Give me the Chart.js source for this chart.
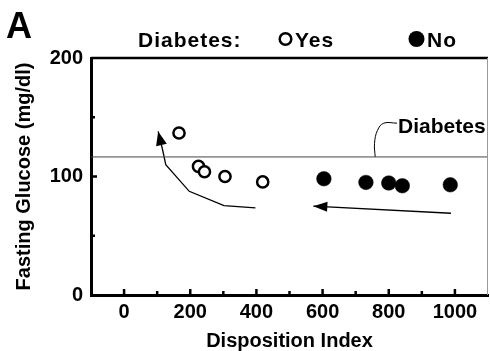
<!DOCTYPE html>
<html>
<head>
<meta charset="utf-8">
<script src="https://cdn.jsdelivr.net/npm/chart.js@4"></script>
<style>
  body { margin: 0; background: #fff; }
</style>
</head>
<body>
<canvas id="chart" width="490" height="351"></canvas>
<script>
// data
var yesIndex = [166, 225, 243, 305, 419];
var yesGlucose = [136.7, 108.5, 104, 100, 95.4];
var noIndex = [604, 731, 800, 841, 986];
var noGlucose = [98.1, 95, 94.5, 92.2, 93];
var diabetesCut = 116.5;
var leftArrow = [[397, 73.5], [302, 75.4], [197, 87.5], [126, 110], [116, 123], [103, 138]];
var rightArrow = [[988, 69], [572, 75]];
var callout = [[759, diabetesCut], [757, 128], [766, 139], [785, 145], [825, 145]];
var xTickLabels = [0, 200, 400, 600, 800, 1000];
var yTickLabels = [0, 100, 200];

var FONT = "'Liberation Sans', Arial, sans-serif";

function pts(xs, ys) {
  return xs.map(function(x, i) { return { x: x, y: ys[i] }; });
}
function pairs(a) {
  return a.map(function(p) { return { x: p[0], y: p[1] }; });
}

var extras = {
  id: 'extras',
  afterDraw: function(chart) {
    var ctx = chart.ctx, a = chart.chartArea;
    var xs = chart.scales.x, ys = chart.scales.y;
    ctx.save();
    // frame top + right
    ctx.strokeStyle = '#000';
    ctx.lineWidth = 2.5;
    ctx.beginPath(); ctx.moveTo(a.left, a.top); ctx.lineTo(a.right, a.top); ctx.stroke();
    ctx.strokeStyle = '#999';
    ctx.lineWidth = 1;
    ctx.beginPath(); ctx.moveTo(a.right - 0.5, a.top); ctx.lineTo(a.right - 0.5, a.bottom); ctx.stroke();

    // inward tick marks
    ctx.strokeStyle = '#000';
    ctx.lineWidth = 2.5;
    xs.ticks.forEach(function(t) {
      if (t.value <= -100 || t.value >= 1100) return;
      var px = xs.getPixelForValue(t.value);
      var len = xTickLabels.indexOf(t.value) >= 0 ? 6 : 4;
      ctx.beginPath(); ctx.moveTo(px, a.bottom); ctx.lineTo(px, a.bottom - len); ctx.stroke();
    });
    ys.ticks.forEach(function(t) {
      if (t.value <= 0 || t.value >= 200) return;
      var py = ys.getPixelForValue(t.value);
      var len = yTickLabels.indexOf(t.value) >= 0 ? 6 : 4;
      ctx.beginPath(); ctx.moveTo(a.left, py); ctx.lineTo(a.left + len, py); ctx.stroke();
    });

    // arrowheads
    function head(path, len, half) {
      var n = path.length;
      var tx = xs.getPixelForValue(path[n - 1][0]), ty = ys.getPixelForValue(path[n - 1][1]);
      var fx = xs.getPixelForValue(path[n - 2][0]), fy = ys.getPixelForValue(path[n - 2][1]);
      var ang = Math.atan2(ty - fy, tx - fx);
      ctx.fillStyle = '#000';
      ctx.beginPath();
      ctx.moveTo(tx, ty);
      ctx.lineTo(tx - len * Math.cos(ang) - half * Math.sin(ang), ty - len * Math.sin(ang) + half * Math.cos(ang));
      ctx.lineTo(tx - len * Math.cos(ang) + half * Math.sin(ang), ty - len * Math.sin(ang) - half * Math.cos(ang));
      ctx.closePath();
      ctx.fill();
    }
    head(leftArrow, 14, 5.5);
    head(rightArrow, 14, 5);

    // callout label
    ctx.fillStyle = '#000';
    ctx.font = 'bold 21px ' + FONT;
    ctx.textBaseline = 'middle';
    ctx.textAlign = 'left';
    var last = callout[callout.length - 1];
    ctx.fillText('Diabetes', xs.getPixelForValue(last[0]) + 1, ys.getPixelForValue(last[1]) + 4);

    // panel letter + legend
    ctx.textBaseline = 'alphabetic';
    ctx.font = 'bold 36px ' + FONT;
    ctx.fillText('A', 6, 38);
    ctx.font = 'bold 21px ' + FONT;
    ctx.letterSpacing = '1px';
    ctx.fillText('Diabetes:', 138, 47);
    ctx.fillText('Yes', 295, 47);
    ctx.fillText('No', 427, 47);
    ctx.letterSpacing = '0px';
    ctx.lineWidth = 2.5;
    ctx.beginPath(); ctx.arc(285.5, 39, 5.8, 0, Math.PI * 2); ctx.stroke();
    ctx.beginPath(); ctx.arc(416.5, 39, 8, 0, Math.PI * 2); ctx.fill();
    ctx.restore();
  }
};

new Chart(document.getElementById('chart').getContext('2d'), {
  type: 'scatter',
  data: {
    datasets: [
      {
        type: 'line', data: [{ x: -100, y: diabetesCut }, { x: 1100, y: diabetesCut }],
        borderColor: '#444', borderWidth: 1, pointRadius: 0
      },
      {
        type: 'line', data: pairs(callout), borderColor: '#000', borderWidth: 1,
        pointRadius: 0, tension: 0.4
      },
      {
        type: 'line', data: pairs(leftArrow), borderColor: '#000', borderWidth: 1.3,
        pointRadius: 0
      },
      {
        type: 'line', data: pairs(rightArrow), borderColor: '#000', borderWidth: 1.3,
        pointRadius: 0
      },
      {
        label: 'Yes', data: pts(yesIndex, yesGlucose),
        pointRadius: 5.6, pointBackgroundColor: '#fff', pointBorderColor: '#000', pointBorderWidth: 2.5
      },
      {
        label: 'No', data: pts(noIndex, noGlucose),
        pointRadius: 7.3, pointBackgroundColor: '#000', pointBorderColor: '#000', pointBorderWidth: 0.5
      }
    ]
  },
  options: {
    responsive: false,
    animation: false,
    devicePixelRatio: 1,
    layout: { autoPadding: false, padding: { top: 58, right: 2, left: 0, bottom: 0 } },
    plugins: { legend: { display: false }, tooltip: { enabled: false } },
    scales: {
      x: {
        type: 'linear', min: -100, max: 1100,
        afterFit: function(s) { s.height = 56; s.paddingRight = 0; s.paddingLeft = 0; },
        grid: { display: false, drawTicks: false, tickLength: 0 },
        border: { display: true, color: '#000', width: 3 },
        ticks: {
          stepSize: 100, autoSkip: false, maxRotation: 0, padding: 5, color: '#000',
          font: { family: FONT, size: 20, weight: 'bold' },
          callback: function(v) { return xTickLabels.indexOf(v) >= 0 ? v : ''; }
        },
        title: {
          display: true, text: 'Disposition Index', color: '#000',
          font: { family: FONT, size: 20, weight: 'bold', lineHeight: 1 }, padding: { top: 0, bottom: 0 }
        }
      },
      y: {
        min: 0, max: 200,
        afterFit: function(s) { s.width = 91; },
        grid: { display: false, drawTicks: false, tickLength: 0 },
        border: { display: true, color: '#000', width: 3 },
        ticks: {
          stepSize: 50, autoSkip: false, padding: 8, color: '#000',
          font: { family: FONT, size: 20, weight: 'bold' },
          callback: function(v) { return yTickLabels.indexOf(v) >= 0 ? v : ''; }
        },
        title: {
          display: true, text: 'Fasting Glucose (mg/dl)', color: '#000',
          font: { family: FONT, size: 20, weight: 'bold' }, padding: { top: 12, bottom: 0 }
        }
      }
    }
  },
  plugins: [extras]
});
</script>
</body>
</html>
